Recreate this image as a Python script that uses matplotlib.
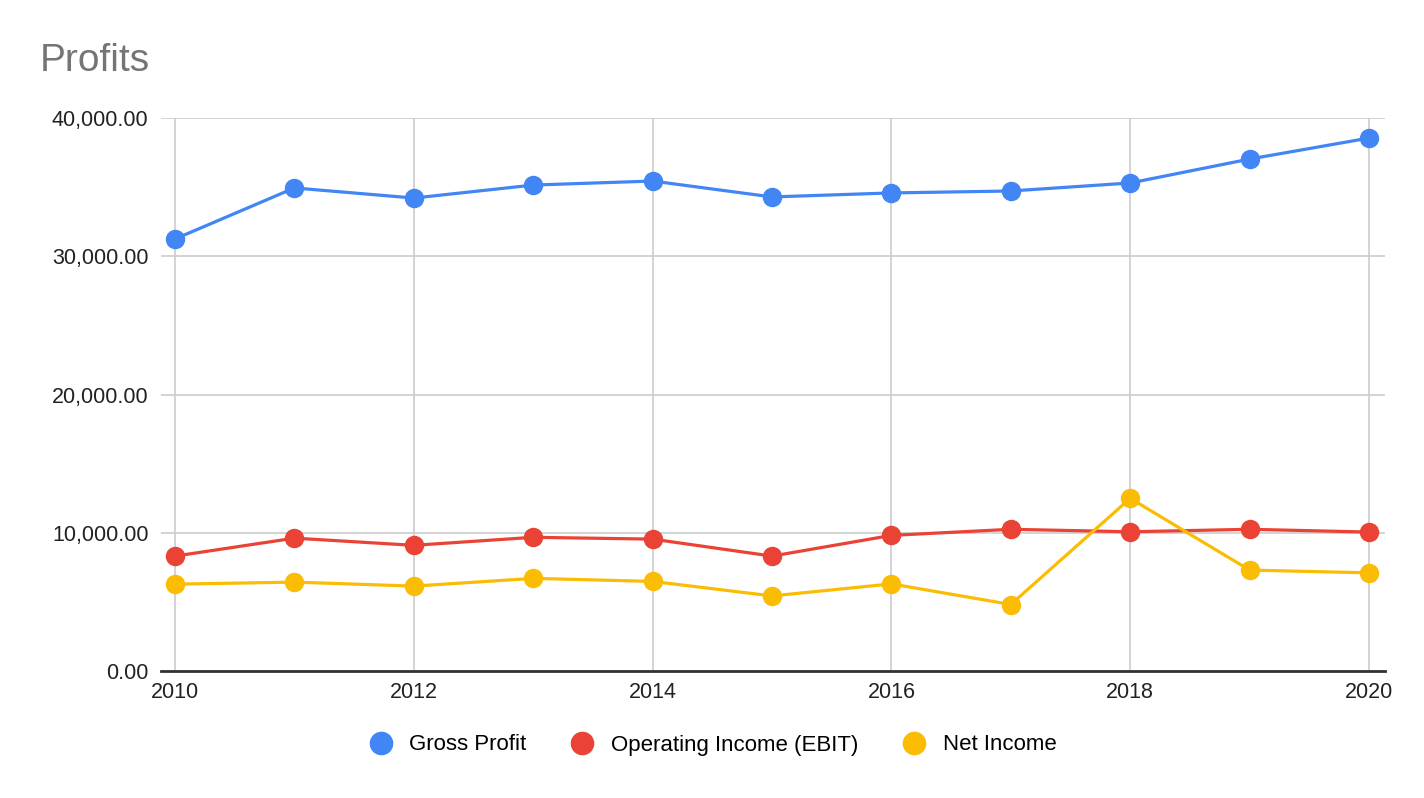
import matplotlib
matplotlib.use("Agg")
import matplotlib.pyplot as plt
from matplotlib.ticker import FuncFormatter
from matplotlib.lines import Line2D

years = [2010, 2011, 2012, 2013, 2014, 2015, 2016, 2017, 2018, 2019, 2020]
gross_profit = [31250, 34940, 34210, 35150, 35440, 34290, 34580, 34720, 35300, 37030, 38550]
operating_income = [8310, 9610, 9090, 9670, 9540, 8310, 9810, 10250, 10070, 10250, 10050]
net_income = [6280, 6430, 6140, 6700, 6480, 5430, 6300, 4810, 12490, 7300, 7100]
series_names = ["Gross Profit", "Operating Income (EBIT)", "Net Income"]
colors = ["#4285F4", "#EA4335", "#FBBC04"]
x_ticks = [2010, 2012, 2014, 2016, 2018, 2020]
y_ticks = [0, 10000, 20000, 30000, 40000]

plt.rcParams['font.family'] = ['Liberation Sans', 'DejaVu Sans']

fig = plt.figure(figsize=(14.24, 7.98), dpi=100)
ax = fig.add_axes([161/1424, 1 - 671/798, (1385 - 161)/1424, (671 - 118)/798])

for vals, c, name in zip([gross_profit, operating_income, net_income], colors, series_names):
    ax.plot(years, vals, color=c, lw=2.3, marker='o', ms=13, label=name,
            solid_joinstyle='round', zorder=3)

ax.set_xlim(2010 - 14/119.4, 2020 + 16/119.4)
ax.set_ylim(0, 40000)
ax.set_xticks(x_ticks)
ax.set_yticks(y_ticks)
ax.yaxis.set_major_formatter(FuncFormatter(lambda v, p: f"{v:,.2f}"))
ax.grid(True, color="#cccccc", lw=1.2, zorder=0)
for s in ["top", "right", "left"]:
    ax.spines[s].set_visible(False)
ax.spines["bottom"].set_color("#333333")
ax.spines["bottom"].set_linewidth(2)
ax.spines["bottom"].set_zorder(4)
ax.tick_params(axis='both', length=0, labelsize=15.5, colors="#222222")
ax.tick_params(axis='y', pad=9)
ax.tick_params(axis='x', pad=8)

fig.text(40/1424, 1 - 61/798, "Profits", fontsize=28, color="#757575", va='center', ha='left')

handles = [Line2D([], [], ls='none', marker='o', ms=16, color=c) for c in colors]
fig.legend(handles, series_names, loc='center', bbox_to_anchor=(712/1424, 1 - 745/798),
           ncol=3, frameon=False, fontsize=16, handletextpad=0.7, columnspacing=1.9,
           handlelength=1.2)

fig.savefig("out.png", dpi=100, facecolor="white")
